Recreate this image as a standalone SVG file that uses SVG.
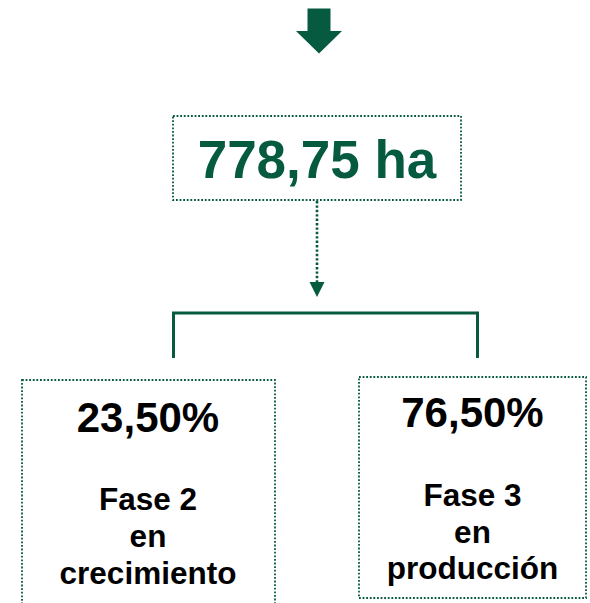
<svg xmlns="http://www.w3.org/2000/svg" width="590" height="603" viewBox="0 0 590 603">
<defs>
<style>
.box{fill:#fff;stroke:#065a3f;stroke-width:1.8;stroke-dasharray:1.8 1.8}
.big{font-family:"Liberation Sans",Arial,sans-serif;font-weight:bold;text-anchor:middle}
.pct{font-size:42px;fill:#000}
.lbl{font-size:31.5px;fill:#000}
.link{fill:none;stroke:#065a3f}
</style>
</defs>
<rect width="590" height="603" fill="#fff"/>
<g id="top-arrow">
<polygon points="307.5,8.5 330.5,8.5 330.5,31 342,31 319,53.5 296,31 307.5,31" fill="#065a3f"/>
</g>
<g id="total">
<rect class="box" x="173" y="116" width="288" height="84"/>
<text class="big" x="317" y="178" font-size="53" fill="#065a3f">778,75 ha</text>
</g>
<g id="connectors">
<line class="link" x1="317" y1="201" x2="317" y2="283" stroke-width="2.6" stroke-dasharray="2.4 2"/>
<polygon points="309.5,282 324.5,282 317,297" fill="#065a3f"/>
<polyline class="link" points="173.5,358 173.5,313 477.5,313 477.5,358" stroke-width="3"/>
</g>
<g id="fase2">
<rect class="box" x="22" y="380" width="253" height="230"/>
<text class="big pct" x="148" y="432">23,50%</text>
<text class="big lbl" x="148" y="510">Fase 2</text>
<text class="big lbl" x="148" y="547">en</text>
<text class="big lbl" x="148" y="584">crecimiento</text>
</g>
<g id="fase3">
<rect class="box" x="359" y="377" width="227" height="221"/>
<text class="big pct" x="472.5" y="427">76,50%</text>
<text class="big lbl" x="472.5" y="506">Fase 3</text>
<text class="big lbl" x="472.5" y="543">en</text>
<text class="big lbl" x="472.5" y="579">producción</text>
</g>
</svg>
